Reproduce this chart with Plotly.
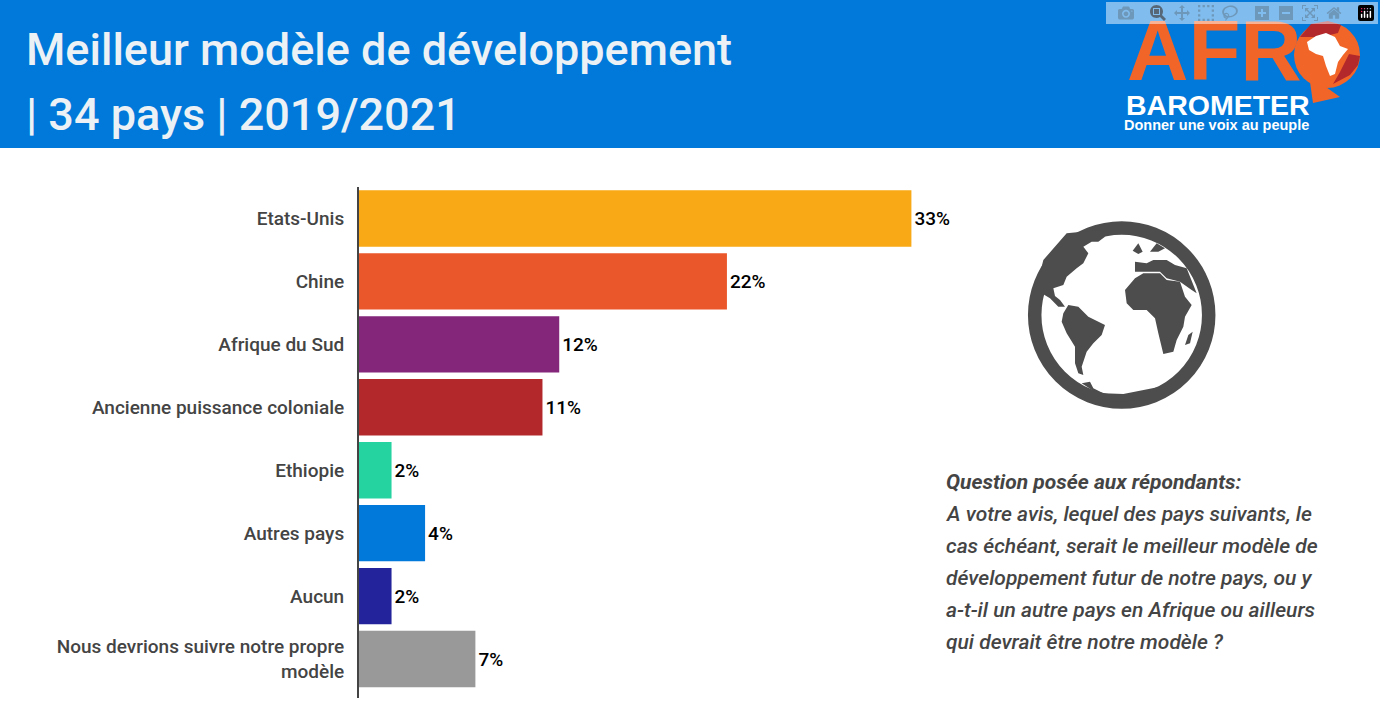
import plotly.graph_objects as go

# ---- data ----
categories = ["Etats-Unis", "Chine", "Afrique du Sud", "Ancienne puissance coloniale",
              "Ethiopie", "Autres pays", "Aucun", "Nous devrions suivre notre propre<br>modèle"]
values = [33, 22, 12, 11, 2, 4, 2, 7]
labels = ["33%", "22%", "12%", "11%", "2%", "4%", "2%", "7%"]
colors = ["#F9A915", "#EA572B", "#84267A", "#B2282B", "#25D3A1", "#0079DA", "#23239B", "#999999"]

TITLE_LINES = ["Meilleur modèle de développement", "| 34 pays | 2019/2021"]
QUESTION = ["<b><i>Question posée aux répondants:</i></b>",
            "<i>A votre avis, lequel des pays suivants, le</i>",
            "<i>cas échéant, serait le meilleur modèle de</i>",
            "<i>développement futur de notre pays, ou y</i>",
            "<i>a-t-il un autre pays en Afrique ou ailleurs</i>",
            "<i>qui devrait être notre modèle ?</i>"]

W, H = 1380, 720
GREY = "#4D4D4D"
def fx(x): return x / W
def fy(y): return 1 - y / H

def poly(pts, ox=0, oy=0, s=1):
    return "M" + " L".join(f"{fx(ox + x * s):.5f},{fy(oy + y * s):.5f}" for x, y in pts) + " Z"

def pshape(d, color):
    return dict(type="path", xref="paper", yref="paper", path=d, fillcolor=color, line=dict(width=0), layer="above")

def circle(cx, cy, r, **kw):
    return dict(type="circle", xref="paper", yref="paper", x0=fx(cx - r), x1=fx(cx + r),
                y0=fy(cy + r), y1=fy(cy - r), layer="above", **kw)

fig = go.Figure(go.Bar(
    x=values, y=categories, orientation="h", marker=dict(color=colors, line=dict(width=0)),
    text=labels, textposition="outside", cliponaxis=False,
    textfont=dict(family="Roboto", size=19, color="#000000", weight=500), width=0.895,
))

# continents traced in the coordinates of a 3x zoom of the globe
G = dict(ox=1010, oy=210, s=1 / 3)
north_america = [(95,250),(120,265),(145,290),(165,290),(150,270),(135,258),(130,235),(160,225),(170,200),(200,175),(220,160),(235,130),(220,110),(245,95),(265,95),(285,80),(270,60),(170,70),(100,150),(80,230)]
south_america = [(160,310),(175,285),(205,290),(235,320),(285,345),(275,375),(250,400),(230,425),(215,470),(220,495),(205,490),(195,460),(195,410),(170,370),(155,335)]
africa = [(345,240),(375,205),(400,190),(450,190),(470,210),(510,215),(525,260),(545,285),(525,320),(520,350),(500,390),(490,425),(460,432),(445,370),(435,325),(410,300),(370,300),(350,280)]
eurasia = [(375,185),(375,155),(410,160),(430,150),(470,150),(495,165),(530,175),(560,250),(545,240),(510,215),(470,205),(450,185),(405,185)]
uk = [(368,122),(385,100),(398,125),(385,132)]
scand = [(420,125),(440,100),(465,115),(445,125)]
madagascar = [(525,405),(535,375),(548,365),(540,400)]
antarctica = [(215,520),(240,515),(250,535),(280,550),(340,552),(450,530),(420,570),(300,575)]

shapes = [
    dict(type="rect", xref="paper", yref="paper", x0=0, x1=1, y0=fy(148), y1=1, fillcolor="#0079DA", line=dict(width=0), layer="below"),
    dict(type="line", xref="paper", yref="paper", x0=fx(358), x1=fx(358), y0=fy(187), y1=fy(698), line=dict(color="#444444", width=2), layer="above"),
    circle(1121.7, 315, 87, line=dict(color=GREY, width=13.5)),
]
for p in (north_america, south_america, africa, eurasia, uk, scand, madagascar, antarctica):
    shapes.append(pshape(poly(p, **G), GREY))

# logo: speech bubble with Africa
L = dict(ox=1285, oy=15, s=1 / 3)
shapes += [
    circle(1327, 55, 33, fillcolor="#F26529", line=dict(width=0)),
    pshape(poly([(1311,24),(1300,37),(1322,37),(1338,33),(1341,25),(1328,21)]), "#B2282B"),
    pshape(poly([(1360,56),(1349,54),(1340,72),(1333,84),(1350,75),(1358,65)]), "#B2282B"),
    pshape(poly([(1310,82),(1316,80),(1340,97),(1313,103)]), "#F26529") ,
    pshape(poly([(1307,42),(1316,36),(1326,33),(1335,37),(1340,46),(1348,49),(1343,55),(1338,62),(1335,74),(1330,76),(1326,66),(1323,56),(1316,54),(1309,50)]), "#FFFFFF"),
]

ann = []
def text(x, y, t, size, color, anchor="left", family="Roboto", weight=None, va="middle"):
    f = dict(family=family, size=size, color=color)
    if weight: f["weight"] = weight
    ann.append(dict(xref="paper", yref="paper", x=fx(x), y=fy(y), text=t, showarrow=False,
                    xanchor=anchor, yanchor=va, font=f, align=anchor))

text(24, 50, TITLE_LINES[0], 45, "#ECF1F5", weight=500)
text(24, 115, TITLE_LINES[1], 45, "#ECF1F5", weight=500)
text(1125, 51, "AFR", 85, "#F26529", family="Liberation Sans", weight=700)
text(1124, 105, "BAROMETER", 28.5, "#FFFFFF", family="Liberation Sans", weight=700)
text(1122, 125, "Donner une voix au peuple", 14.5, "#FFFFFF", family="Liberation Sans", weight=700)
for i, line in enumerate(QUESTION):
    text(944, 482 + 32 * i, line, 21, "#444444", weight=500)

fig.update_layout(
    width=W, height=H, margin=dict(l=0, r=0, t=0, b=0), autosize=False,
    paper_bgcolor="#FFFFFF", plot_bgcolor="#FFFFFF", showlegend=False,
    shapes=shapes, annotations=ann,
    xaxis=dict(domain=[fx(358), fx(958)], range=[0, 600 / 16.77], visible=False),
    yaxis=dict(domain=[fy(690.5), fy(187)], autorange="reversed", showgrid=False, showline=False,
               ticks="outside", ticklen=9, tickcolor="rgba(0,0,0,0)",
               tickfont=dict(family="Roboto", size=19, color="#444444", weight=500)),
)
fig.write_html("out.html", post_script="document.body.style.margin='0';")
